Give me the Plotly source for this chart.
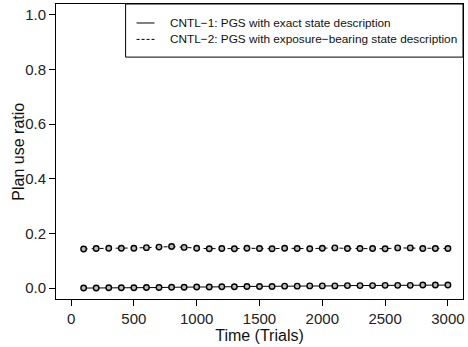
import plotly.graph_objects as go

trials = list(range(100, 3001, 100))
cntl1 = [0.000, 0.000, 0.001, 0.001, 0.001, 0.002, 0.002, 0.003, 0.003, 0.004,
         0.004, 0.005, 0.005, 0.006, 0.006, 0.006, 0.007, 0.007, 0.008, 0.008,
         0.008, 0.009, 0.009, 0.009, 0.010, 0.010, 0.010, 0.011, 0.011, 0.011]
cntl2 = [0.143, 0.145, 0.146, 0.146, 0.146, 0.148, 0.150, 0.152, 0.149, 0.146,
         0.144, 0.145, 0.144, 0.146, 0.145, 0.144, 0.146, 0.145, 0.144, 0.146,
         0.147, 0.145, 0.145, 0.145, 0.144, 0.147, 0.147, 0.145, 0.145, 0.145]
names = ["CNTL\u22121: PGS with exact state description",
         "CNTL\u22122: PGS with exposure\u2212bearing state description"]
dashes = ["solid", "4px,4px"]
xticks = [0, 500, 1000, 1500, 2000, 2500, 3000]
yticks = [0.0, 0.2, 0.4, 0.6, 0.8, 1.0]

fig = go.Figure()
for ys, nm, dash in zip([cntl1, cntl2], names, dashes):
    fig.add_trace(go.Scatter(x=trials, y=ys, mode="lines", name=nm, showlegend=False,
                             line=dict(color="black", width=1, dash=dash)))
    fig.add_trace(go.Scatter(x=trials, y=ys, mode="markers", showlegend=False,
                             marker=dict(symbol="circle", size=5.5, color="#bbbbbb",
                                         line=dict(color="black", width=1.4))))

axis_common = dict(showgrid=False, zeroline=False, showline=True, linecolor="black",
                   linewidth=1, mirror=True, ticks="outside", ticklen=6,
                   tickcolor="black", tickfont=dict(family="Liberation Sans", size=15, color="#222"))
fig.update_layout(
    width=468, height=347,
    margin=dict(l=56, r=3, t=4, b=48),
    plot_bgcolor="white", paper_bgcolor="white",
    font=dict(family="Liberation Sans", color="#111"),
    xaxis=dict(range=[-120, 3120], tickvals=xticks,
               title=dict(text="Time (Trials)", font=dict(size=16), standoff=2),
               **axis_common),
    yaxis=dict(range=[-0.04, 1.04], tickvals=yticks, tickformat=".1f", **axis_common),
    showlegend=False,
)

# R-style legend box in the top-right corner
fig.add_shape(type="rect", xref="paper", yref="paper", x0=0.171, x1=1.0, y0=0.820, y1=1.0,
              line=dict(color="black", width=1), fillcolor="white", layer="above")
for i, (nm, dash) in enumerate(zip(names, dashes)):
    yy = [0.9356, 0.880][i]
    fig.add_shape(type="line", xref="paper", yref="paper", x0=0.198, x1=0.242, y0=yy, y1=yy,
                  line=dict(color="black", width=1, dash="3px,2px" if dash != "solid" else "solid"),
                  layer="above")
    fig.add_annotation(text=nm, xref="paper", yref="paper", x=0.274, y=yy, showarrow=False,
                       xanchor="left", yanchor="middle", font=dict(size=11.8, color="#111"))

fig.add_annotation(text="Plan use ratio", textangle=-90, xref="paper", yref="paper",
                   x=-0.093, y=0.5, showarrow=False, xanchor="center", yanchor="middle",
                   font=dict(size=16, color="#111"))
fig.write_html("out.html")
